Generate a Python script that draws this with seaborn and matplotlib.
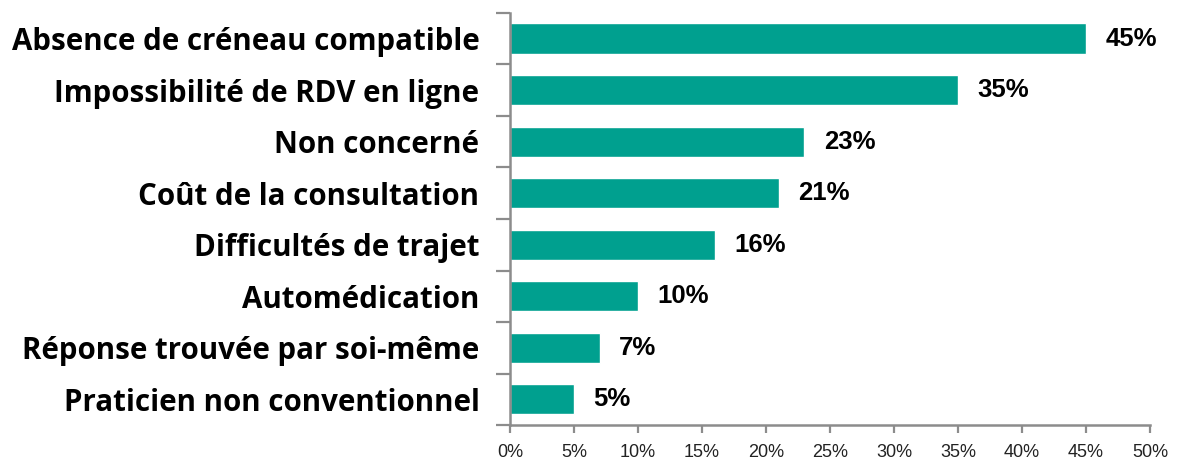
import matplotlib
matplotlib.use("Agg")
import matplotlib.pyplot as plt
from matplotlib import font_manager
import seaborn as sns
import pandas as pd
from matplotlib.ticker import FuncFormatter, MultipleLocator

# Reasons for not consulting, share of respondents (%)
raisons = [
    "Absence de créneau compatible",
    "Impossibilité de RDV en ligne",
    "Non concerné",
    "Coût de la consultation",
    "Difficultés de trajet",
    "Automédication",
    "Réponse trouvée par soi-même",
    "Praticien non conventionnel",
]
parts = [45, 35, 23, 21, 16, 10, 7, 5]

df = pd.DataFrame({"raison": raisons, "part": parts})


def bold_family(candidates):
    """First family that ships a real bold face."""
    for fam in candidates:
        try:
            path = font_manager.findfont(
                font_manager.FontProperties(family=fam, weight="bold"),
                fallback_to_default=False)
        except Exception:
            continue
        name = path.lower()
        if "bold" in name or "black" in name or "heavy" in name:
            return fam
    return "DejaVu Sans"


label_family = bold_family(["Open Sans", "Inter", "Roboto", "Lato"])

sns.set_theme(style="white")
plt.rcParams["font.family"] = [label_family, "DejaVu Sans"]

teal = "#00A08F"
axis_grey = "#8C8C8C"

fig = plt.figure(figsize=(11.77, 4.62), dpi=100)
ax = fig.add_axes([0.4333, 0.080, 0.977 - 0.4333, 0.972 - 0.080])

sns.barplot(data=df, x="part", y="raison", orient="h", color=teal,
            width=0.59, saturation=1, ax=ax)

ax.set_xlim(0, 50)
ax.set_ylim(len(raisons) - 0.5, -0.5)
ax.xaxis.set_major_locator(MultipleLocator(5))
ax.xaxis.set_major_formatter(FuncFormatter(lambda v, _: f"{v:.0f}%"))
ax.set_xlabel("")
ax.set_ylabel("")

# Category boundaries carry the y ticks, names sit on minor ticks
ax.set_yticks([i - 0.5 for i in range(len(raisons) + 1)], minor=False)
ax.set_yticklabels([])
ax.set_yticks(range(len(raisons)), minor=True)
ylabels = ax.set_yticklabels(raisons, minor=True, fontsize=20,
                             fontweight="bold", color="black")

# Size the category names so the longest one spans about 468 px
fig.canvas.draw()
renderer = fig.canvas.get_renderer()
widest = max(t.get_window_extent(renderer).width for t in ylabels)
size = 20 * 468 / widest
for t in ylabels:
    t.set_fontsize(size)

ax.tick_params(axis="y", which="major", length=10, width=1.6,
               color=axis_grey, direction="out", left=True)
ax.tick_params(axis="y", which="minor", length=0, pad=22)
ax.tick_params(axis="x", which="major", length=6, width=1.6,
               color=axis_grey, direction="out", bottom=True,
               labelsize=13, labelcolor="#222222", pad=8)
for lab in ax.get_xticklabels():
    lab.set_family(["Liberation Sans", "DejaVu Sans"])

for side in ("top", "right"):
    ax.spines[side].set_visible(False)
for side in ("left", "bottom"):
    ax.spines[side].set_color(axis_grey)
    ax.spines[side].set_linewidth(1.8)

for i, v in enumerate(parts):
    ax.annotate(f"{v}%", xy=(v, i), xytext=(14, 0),
                textcoords="offset points", va="center", ha="left",
                fontsize=18.5, fontweight="bold", color="black",
                family=["Liberation Sans", "DejaVu Sans"])

fig.savefig("out.png", dpi=100, facecolor="white")
